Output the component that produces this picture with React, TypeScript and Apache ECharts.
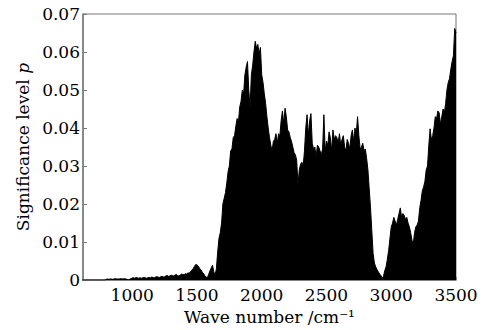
import React, { useEffect, useRef } from "react";
import * as echarts from "echarts";

// Wave numbers sampled every 10 cm^-1 from 600 to 3500
const waveStart = 600;
const waveStep = 10;

// Significance level p, rows of 10 values (each row = 100 cm^-1)
const p600 = [0, 0, 0, 0, 0, 0, 0, 0, 0, 0];
const p700 = [0, 0, 0, 0, 0, 0, 0, 0, 0, 0];
const p800 = [0.0002, 0.0003, 0.0002, 0.0003, 0.0003, 0.0002, 0.0003, 0.0004, 0.0003, 0.0003];
const p900 = [0.0003, 0.0004, 0.0003, 0.0003, 0.0004, 0.0003, 0.0002, 0.0001, 0.0002, 0.0004];
const p1000 = [0.0005, 0.0006, 0.0005, 0.0007, 0.0006, 0.0005, 0.0006, 0.0005, 0.0006, 0.0007];
const p1100 = [0.0006, 0.0005, 0.0006, 0.0007, 0.0006, 0.0008, 0.0007, 0.0006, 0.0008, 0.0009];
const p1200 = [0.0008, 0.0007, 0.0009, 0.001, 0.0008, 0.0009, 0.0011, 0.0012, 0.001, 0.0011];
const p1300 = [0.0013, 0.0012, 0.0011, 0.0013, 0.0015, 0.0012, 0.0011, 0.0013, 0.0016, 0.0015];
const p1400 = [0.0014, 0.0017, 0.0016, 0.0019, 0.0018, 0.0022, 0.0026, 0.003, 0.0036, 0.0041];
const p1500 = [0.004, 0.0037, 0.0031, 0.0027, 0.0021, 0.0018, 0.0012, 0.0008, 0.0006, 0.0015];
const p1600 = [0.0024, 0.0032, 0.0039, 0.0022, 0.0013, 0.003, 0.0075, 0.011, 0.0125, 0.015];
const p1700 = [0.02, 0.0215, 0.023, 0.0255, 0.0285, 0.03, 0.034, 0.0345, 0.0375, 0.038];
const p1800 = [0.0405, 0.0425, 0.0415, 0.0455, 0.047, 0.05, 0.049, 0.054, 0.056, 0.0575];
const p1900 = [0.05, 0.0455, 0.054, 0.0565, 0.06, 0.0628, 0.061, 0.062, 0.0595, 0.0612];
const p2000 = [0.054, 0.052, 0.049, 0.0465, 0.043, 0.04, 0.0375, 0.0355, 0.034, 0.0365];
const p2100 = [0.037, 0.0385, 0.036, 0.0385, 0.038, 0.042, 0.0445, 0.041, 0.0452, 0.043];
const p2200 = [0.0395, 0.039, 0.0375, 0.0365, 0.035, 0.0335, 0.033, 0.0315, 0.025, 0.029];
const p2300 = [0.0305, 0.031, 0.03, 0.034, 0.04, 0.0435, 0.038, 0.042, 0.0438, 0.036];
const p2400 = [0.0345, 0.035, 0.0325, 0.0355, 0.035, 0.034, 0.033, 0.0345, 0.0435, 0.034];
const p2500 = [0.0365, 0.0355, 0.039, 0.0375, 0.034, 0.0395, 0.037, 0.038, 0.0375, 0.036];
const p2600 = [0.0385, 0.0355, 0.037, 0.038, 0.035, 0.034, 0.037, 0.036, 0.0345, 0.038];
const p2700 = [0.0395, 0.0365, 0.04, 0.0385, 0.043, 0.038, 0.0345, 0.035, 0.036, 0.034];
const p2800 = [0.0345, 0.032, 0.029, 0.024, 0.019, 0.013, 0.007, 0.0045, 0.0035, 0.0028];
const p2900 = [0.0022, 0.0016, 0.0012, 0.0005, 0.001, 0.0025, 0.0035, 0.0055, 0.0078, 0.011];
const p3000 = [0.014, 0.015, 0.0165, 0.0155, 0.0145, 0.016, 0.0175, 0.019, 0.0165, 0.0175];
const p3100 = [0.017, 0.016, 0.0165, 0.015, 0.014, 0.0125, 0.0105, 0.0095, 0.0125, 0.014];
const p3200 = [0.0145, 0.0155, 0.019, 0.021, 0.0235, 0.0245, 0.026, 0.029, 0.03, 0.0355];
const p3300 = [0.0398, 0.037, 0.038, 0.04, 0.043, 0.0425, 0.0445, 0.044, 0.041, 0.043];
const p3400 = [0.045, 0.044, 0.0465, 0.05, 0.052, 0.053, 0.0555, 0.0575, 0.059, 0.0662];
const p3500 = [0.065];

const pValues = [
  ...p600, ...p700, ...p800, ...p900, ...p1000, ...p1100, ...p1200, ...p1300,
  ...p1400, ...p1500, ...p1600, ...p1700, ...p1800, ...p1900, ...p2000, ...p2100,
  ...p2200, ...p2300, ...p2400, ...p2500, ...p2600, ...p2700, ...p2800, ...p2900,
  ...p3000, ...p3100, ...p3200, ...p3300, ...p3400, ...p3500,
];

const xTicks = [1000, 1500, 2000, 2500, 3000, 3500];

const FONT = "DejaVu Serif";
const FS = 17;

export default function App() {
  const ref = useRef<HTMLDivElement>(null);
  useEffect(() => {
    if (!ref.current) return;
    const chart = echarts.init(ref.current, null, { renderer: "svg" });
    const data = pValues.map((v, i) => [waveStart + i * waveStep, v]);
    chart.setOption({
      animation: false,
      backgroundColor: "#fff",
      grid: {
        left: 83,
        right: 32,
        top: 14,
        bottom: 47,
        show: true,
        borderColor: "#777",
        borderWidth: 1,
      },
      xAxis: {
        type: "value",
        min: 620,
        max: 3500,
        name: "Wave number /cm⁻¹",
        nameLocation: "middle",
        nameGap: 26,
        nameTextStyle: { fontFamily: FONT, fontSize: FS, color: "#000" },
        axisLine: { show: true, lineStyle: { color: "#777", width: 1.5 } },
        axisTick: { show: true, inside: true, length: 3, customValues: xTicks, lineStyle: { color: "#777" } },
        splitLine: { show: false },
        axisLabel: {
          customValues: xTicks,
          fontFamily: FONT,
          fontSize: FS,
          color: "#000",
          margin: 6,
          formatter: (v: number) => String(v),
        },
      },
      yAxis: {
        type: "value",
        min: 0,
        max: 0.07,
        interval: 0.01,
        name: "Significance level {i|p}",
        nameLocation: "middle",
        nameGap: 50,
        nameTextStyle: {
          fontFamily: FONT,
          fontSize: FS,
          color: "#000",
          rich: { i: { fontFamily: FONT, fontSize: FS, fontStyle: "italic", color: "#000" } },
        },
        axisLine: { show: true, lineStyle: { color: "#777", width: 1.5 } },
        axisTick: { show: true, inside: true, length: 4, lineStyle: { color: "#777" } },
        splitLine: { show: false },
        axisLabel: {
          fontFamily: FONT,
          fontSize: FS,
          color: "#000",
          margin: 3,
          formatter: (v: number) => (v === 0 ? "0" : v.toFixed(2)),
        },
      },
      series: [
        {
          type: "line",
          data,
          symbol: "none",
          clip: true,
          lineStyle: { color: "#000", width: 1 },
          areaStyle: { color: "#000", opacity: 1 },
        },
      ],
    });
    return () => chart.dispose();
  }, []);
  return (
    <div
      ref={ref}
      style={{ position: "fixed", left: 0, top: 0, width: 488, height: 330 }}
    />
  );
}
